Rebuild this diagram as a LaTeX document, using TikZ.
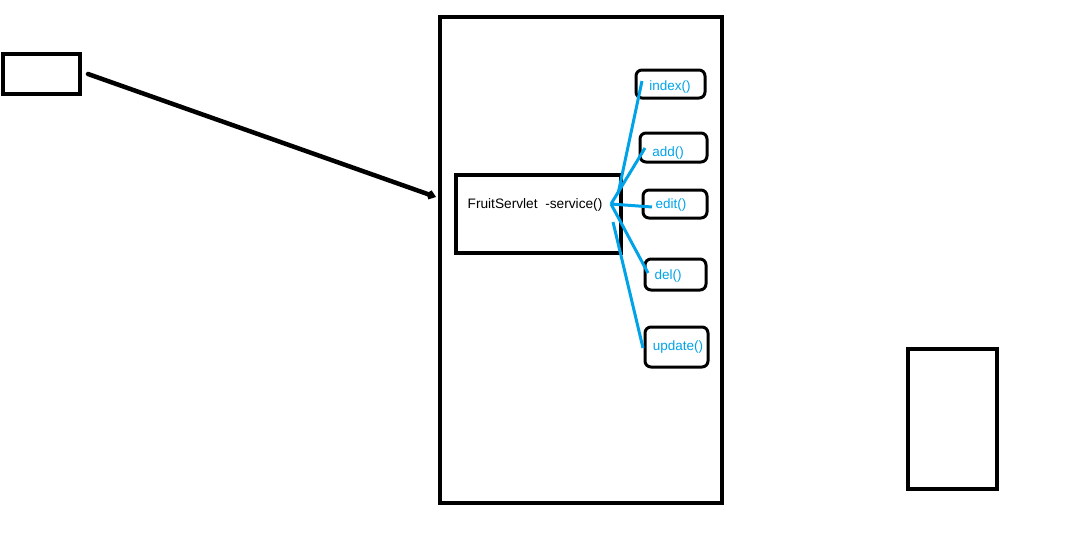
\documentclass[tikz,border=0pt]{standalone}
\usepackage{fontspec}
\setmainfont{Liberation Sans}
\usetikzlibrary{arrows.meta}
\definecolor{pblue}{HTML}{00A2E8}
\tikzset{
  thick box/.style={draw=black, line width=4pt, inner sep=0pt},
  method/.style={draw=black, line width=3pt, rounded corners=6pt, inner sep=0pt},
  mlabel/.style={text=pblue, font=\fontsize{13.5}{15}\selectfont, inner sep=0pt, anchor=center},
  blueline/.style={draw=pblue, line width=3pt},
}
\begin{document}
\begin{tikzpicture}[x=1pt,y=-1pt]
\useasboundingbox (0,0) rectangle (1076,546);
% boxes
\draw[thick box] (3,54) rectangle (80,94);
\coordinate (srcbox) at (80,74);
\draw[thick box] (440,17) rectangle (722,503);
\coordinate (bigleft) at (436,197);
\draw[thick box] (456,175) rectangle (621,253);
\draw[thick box] (908,349) rectangle (997,489);
\node[font=\fontsize{13.7}{15}\selectfont, inner sep=0pt] (svc) at (535,205) {FruitServlet\ \ -service()};
% method boxes
\draw[method] (636,70) rectangle (705,98);
\node[mlabel] (index) at (670,87) {index()};
\draw[method] (640,133) rectangle (707,162);
\node[mlabel] (add) at (668,153) {add()};
\draw[method] (643,190) rectangle (707,218);
\node[mlabel] (edit) at (671,205) {edit()};
\draw[method] (645,259) rectangle (706,290);
\node[mlabel] (del) at (668,276) {del()};
\draw[method] (645,327) rectangle (708,367);
\node[mlabel] (update) at (678,347) {update()};
% arrow
\coordinate (arrstart) at (88,74);
\draw[line width=4.5pt, line cap=round, -{Straight Barb[length=4pt,width=6pt]}] (arrstart) -- (bigleft);
% blue lines
\coordinate (hub) at (611,204);
\coordinate (h1) at (618,194);
\coordinate (h5) at (613,222);
\coordinate (e1) at (642,81);
\coordinate (e2) at (645,148);
\coordinate (e3) at (652,207);
\coordinate (e4) at (648,273);
\coordinate (e5) at (643,348);
\draw[blueline] (h1) -- (e1);
\draw[blueline] (hub) -- (e2);
\draw[blueline] (hub) -- (e3);
\draw[blueline] (hub) -- (e4);
\draw[blueline] (h5) -- (e5);
\end{tikzpicture}
\end{document}
